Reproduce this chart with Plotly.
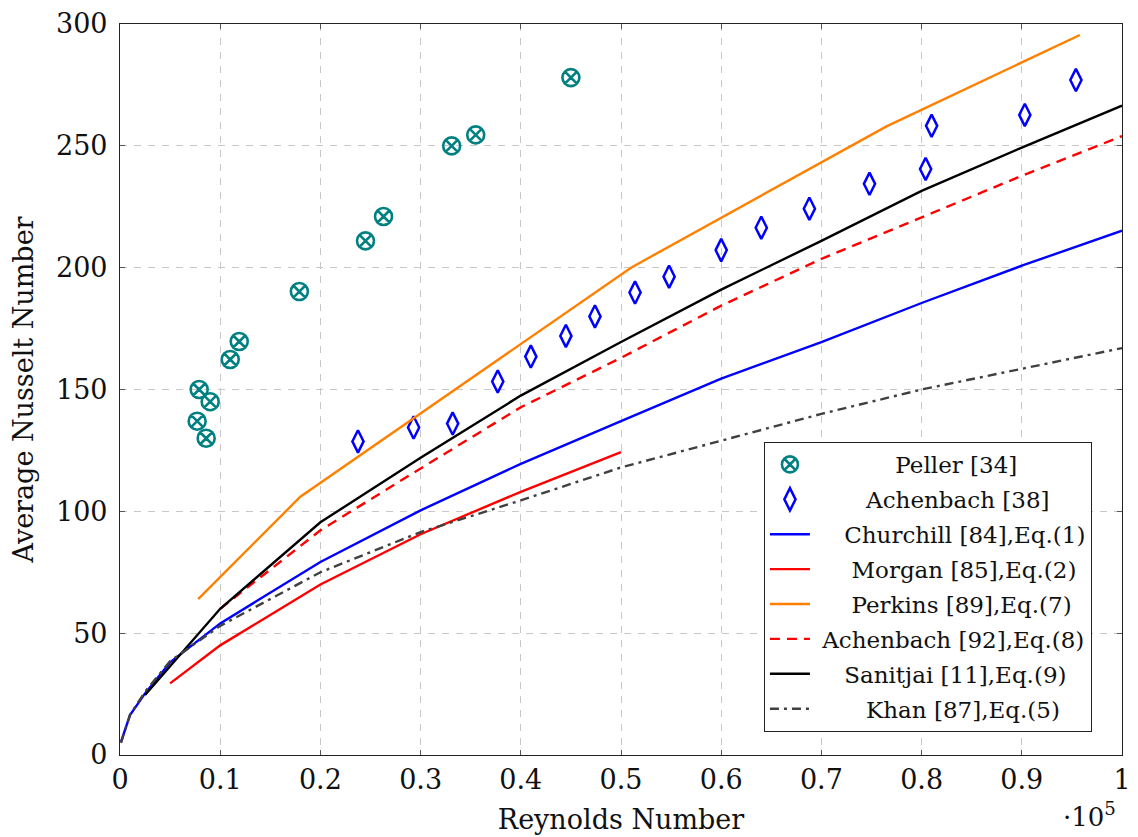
import plotly.graph_objects as go

# ---------------- data (Re in units of 1e5) ----------------
peller_re = [0.077, 0.079, 0.086, 0.090, 0.110, 0.119, 0.179, 0.245, 0.263, 0.331, 0.355, 0.450]
peller_nu = [137.0, 150.0, 130.0, 145.0, 162.3, 169.7, 190.2, 211.0, 221.0, 250.0, 254.5, 278.0]

ach38_re = [0.2375, 0.293, 0.332, 0.377, 0.410, 0.445, 0.474, 0.514, 0.548, 0.600,
            0.640, 0.688, 0.748, 0.804, 0.810, 0.903, 0.954]
ach38_nu = [128.7, 134.4, 136.0, 153.3, 163.5, 172.0, 180.0, 189.8, 196.3, 207.2,
            216.4, 224.2, 234.4, 240.5, 258.2, 262.7, 277.0]

churchill_re = [0.001, 0.01, 0.025, 0.05, 0.1, 0.2, 0.3, 0.4, 0.5, 0.6, 0.7, 0.8, 0.9, 1.0]
churchill_nu = [5.4, 16.4, 25.3, 38.0, 54.0, 79.2, 100.4, 119.5, 137.0, 154.5, 169.4, 185.5, 200.8, 215.2]

morgan_re = [0.05, 0.1, 0.2, 0.3, 0.4, 0.5]
morgan_nu = [29.4, 45.0, 70.0, 90.6, 108.0, 124.3]

perkins_re = [0.078, 0.18, 0.51, 0.765, 0.958]
perkins_nu = [64.0, 106.0, 200.0, 258.0, 295.5]

ach92_re = [0.1, 0.2, 0.3, 0.4, 0.5, 0.6, 0.7, 0.8, 0.9, 1.0]
ach92_nu = [60.0, 92.2, 117.6, 142.7, 163.0, 184.4, 203.6, 220.6, 237.7, 254.0]

sanitjai_re = [0.025, 0.1, 0.2, 0.3, 0.4, 0.5, 0.6, 0.7, 0.8, 0.9, 1.0]
sanitjai_nu = [24.6, 60.0, 95.5, 122.0, 147.5, 169.5, 191.0, 211.0, 231.5, 249.3, 266.5]

khan_re = [0.001, 0.01, 0.025, 0.05, 0.1, 0.2, 0.3, 0.4, 0.5, 0.6, 0.7, 0.8, 0.9, 1.0]
khan_nu = [5.0, 16.5, 26.0, 38.5, 53.0, 75.0, 91.5, 104.5, 118.0, 129.0, 140.0, 150.0, 158.5, 167.0]

x_ticks = [0, 0.1, 0.2, 0.3, 0.4, 0.5, 0.6, 0.7, 0.8, 0.9, 1.0]
x_ticklabels = ["0", "0.1", "0.2", "0.3", "0.4", "0.5", "0.6", "0.7", "0.8", "0.9", "1"]
y_ticks = [0, 50, 100, 150, 200, 250, 300]

FONT = "DejaVu Serif"
NB = "\u00a0"


def centred(label, pad):
    # legend labels are centred in the reference legend column
    return NB * (pad + 1) + label


fig = go.Figure()

fig.add_trace(go.Scatter(
    x=peller_re, y=peller_nu, mode="markers", name=centred("Peller [34]", 10), legendgroup="a",
    marker=dict(symbol="circle-x-open", size=17, color="#008080", line=dict(width=2.6, color="#008080")),
))
fig.add_trace(go.Scatter(
    x=ach38_re, y=ach38_nu, mode="markers", name=centred("Achenbach [38]", 6), legendgroup="b",
    marker=dict(symbol="diamond-tall-open", size=16, color="#0000ff", line=dict(width=2.5, color="#0000ff")),
))
fig.add_trace(go.Scatter(x=churchill_re, y=churchill_nu, mode="lines", name=centred("Churchill [84],Eq.(1)", 3),
                         legendgroup="c", line=dict(color="#0000ff", width=2.4)))
fig.add_trace(go.Scatter(x=morgan_re, y=morgan_nu, mode="lines", name=centred("Morgan [85],Eq.(2)", 4),
                         legendgroup="d", line=dict(color="#ff0000", width=2.4)))
fig.add_trace(go.Scatter(x=perkins_re, y=perkins_nu, mode="lines", name=centred("Perkins [89],Eq.(7)", 4),
                         legendgroup="e", line=dict(color="#ff8000", width=2.4)))
fig.add_trace(go.Scatter(x=ach92_re, y=ach92_nu, mode="lines", name=centred("Achenbach [92],Eq.(8)", 0),
                         legendgroup="f", line=dict(color="#ff0000", width=2.4, dash="10px,7px")))
fig.add_trace(go.Scatter(x=sanitjai_re, y=sanitjai_nu, mode="lines", name=centred("Sanitjai [11],Eq.(9)", 3),
                         legendgroup="g", line=dict(color="#000000", width=2.4)))
fig.add_trace(go.Scatter(x=khan_re, y=khan_nu, mode="lines", name=centred("Khan [87],Eq.(5)", 6),
                         legendgroup="h", line=dict(color="#404040", width=2.4, dash="9px,5px,3px,5px")))

axis_common = dict(
    showline=True, linecolor="#222222", linewidth=1.2, mirror="allticks",
    ticks="inside", ticklen=5, tickcolor="#555555", tickwidth=1,
    showgrid=True, gridcolor="#c8c8c8", gridwidth=1, griddash="7px,7px",
    zeroline=False, automargin=False,
    tickfont=dict(family=FONT, size=27, color="#111111"),
)

fig.update_layout(
    width=1138, height=837,
    margin=dict(l=120, r=16, t=24, b=82),
    paper_bgcolor="white", plot_bgcolor="white",
    font=dict(family=FONT, size=27, color="#111111"),
    xaxis=dict(range=[0, 1], tickvals=x_ticks, ticktext=x_ticklabels,
               title=dict(text="Reynolds Number", font=dict(family=FONT, size=27), standoff=16),
               **axis_common),
    yaxis=dict(range=[0, 300], tickvals=y_ticks, ticklabelstandoff=6,
               title=dict(text="Average Nusselt Number", font=dict(family=FONT, size=27), standoff=14),
               **axis_common),
    legend=dict(
        x=0.970, y=0.0315, xanchor="right", yanchor="bottom",
        bgcolor="white", bordercolor="#222222", borderwidth=1,
        font=dict(family=FONT, size=23, color="#111111"),
        tracegroupgap=2, itemwidth=40,
    ),
    showlegend=True,
    annotations=[dict(
        text="·10<sup>5</sup>", xref="paper", yref="paper", x=0.996, y=-0.082,
        xanchor="right", yanchor="middle", showarrow=False,
        font=dict(family=FONT, size=26, color="#111111"),
    )],
)

fig.write_html("out.html")
